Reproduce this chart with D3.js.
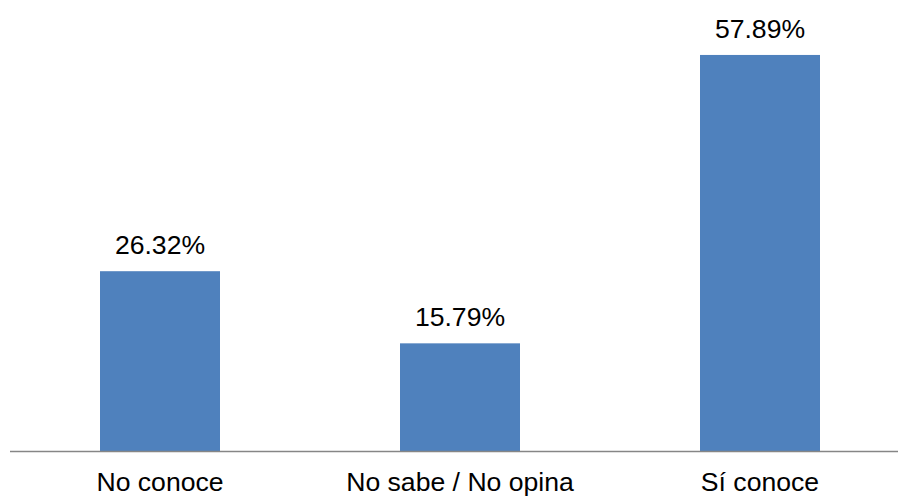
<!DOCTYPE html>
<html>
<head>
<meta charset="utf-8">
<script src="https://cdn.jsdelivr.net/npm/d3@7"></script>
<style>
  html, body { margin: 0; padding: 0; background: #fff; }
  svg { display: block; }
</style>
</head>
<body>
<svg id="chart" width="898" height="496"></svg>
<script>
const categories = ["No conoce", "No sabe / No opina", "Sí conoce"];
const values = [26.32, 15.79, 57.89];
const valueLabels = ["26.32%", "15.79%", "57.89%"];

const svg = d3.select("#chart");
const baseY = 451.5;
const fontFamily = "'Liberation Sans', Arial, sans-serif";
const fontSize = 26.6;

const x = d3.scaleBand()
  .domain(categories)
  .range([10, 910])
  .paddingInner(0.6)
  .paddingOuter(0.3);

const y = d3.scaleLinear()
  .domain([0, 60])
  .range([baseY, baseY - 411]);

svg.append("g").selectAll("rect")
  .data(values)
  .join("rect")
  .attr("x", (d, i) => x(categories[i]))
  .attr("width", x.bandwidth())
  .attr("y", d => y(d))
  .attr("height", d => y(0) - y(d))
  .attr("fill", "#4F81BD");

svg.append("g").selectAll("text")
  .data(values)
  .join("text")
  .attr("x", (d, i) => x(categories[i]) + x.bandwidth() / 2)
  .attr("y", d => y(d) - 17)
  .attr("text-anchor", "middle")
  .attr("font-family", fontFamily)
  .attr("font-size", fontSize)
  .attr("fill", "#000")
  .text((d, i) => valueLabels[i]);

const axis = svg.append("g")
  .attr("transform", `translate(0,${baseY})`)
  .call(d3.axisBottom(x).tickSize(0).tickPadding(20.5));
axis.select(".domain").attr("stroke", "#868686").attr("stroke-width", 1.5).attr("d", "M10,0H898");
axis.selectAll("text")
  .attr("font-family", fontFamily)
  .attr("font-size", fontSize)
  .attr("fill", "#000");
</script>
</body>
</html>
